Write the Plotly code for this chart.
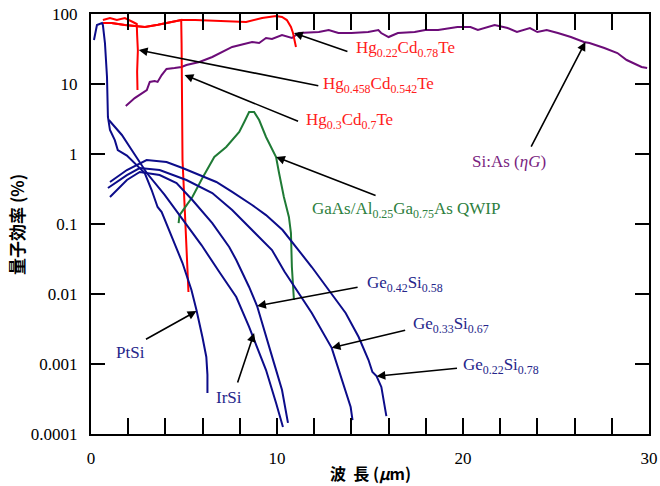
import plotly.graph_objects as go
import math

# ---------------- data ----------------
sias_x = [1.87,2.35,3.0,3.16,3.42,3.58,3.8,4.06,4.49,4.87,5.13,5.83,6.52,7.59,8.66,9.04,9.41,9.73,10.27,10.8,11.18,12.25,12.78,13.3,14.0,14.9,15.45,15.6,16.0,16.5,17.4,17.97,18.66,19.7,20.4,20.8,21.7,22.4,22.9,23.6,24.0,24.5,25.1,25.8,26.5,26.8,27.6,28.3,28.8,29.6,29.9]
sias_y = [4.85,6.3,8.2,10.7,11.0,10.7,13.4,16.4,16.9,17.5,18.7,20.6,24.3,33.8,39.8,38.5,45.4,44,50.1,45.4,53.5,55.3,59,53.5,53.5,55.3,59,53.5,46.9,53.5,55.3,59,59,65.2,65.2,59,69.6,63.1,55.3,63.1,55.3,59,53.5,46.9,39.8,38.5,32.7,27.7,22,17.5,16.9]

hg458_x = [0.64,1.02,1.39,1.82,2.25,2.46,2.48,2.52,2.48,2.5]
hg458_y = [82,87.7,82,87.7,76.9,72,50,30,15,8.2]

hg30_x = [0.64,1.1,1.82,2.35,2.9,3.6,4.49,4.85,4.87,4.9,4.92,4.97,5.03,5.13,5.24]
hg30_y = [74.4,74.4,69.6,67,65.2,70,79.4,82,38.5,1.58,0.82,0.425,0.175,0.031,0.0107]

hg22_x = [0.64,1.1,1.82,2.35,2.9,3.6,4.49,4.87,5.6,6.74,7.59,8.34,9.2,9.95,10.27,10.53,10.75,10.86,11.02]
hg22_y = [74.4,74.4,69.6,67,65.2,70,79.4,82,82,79.4,76.9,76.9,87.7,93.6,90.6,82,65.2,53.5,33.8]

ptsi_x = [0.16,0.32,0.59,0.64,0.75,0.86,0.91,1.02,1.28,1.44,1.93,2.46,2.89,3.26,3.58,3.8,4.12,4.49,4.92,5.4,5.67,5.99,6.2,6.26,6.26]
ptsi_y = [42.5,69.6,74.4,69.6,38.5,12.6,3.38,2.2,1.58,1.14,0.95,0.7,0.535,0.306,0.175,0.148,0.0906,0.0535,0.0277,0.0114,0.0059,0.00243,0.00126,0.0007,0.000386]

irsi_x = [0.96,1.66,2.19,3.0,3.96,5.03,5.94,6.9,7.81,8.5,9.41,9.95,10.32]
irsi_y = [3.06,1.87,1.14,0.535,0.26,0.107,0.05,0.0206,0.00906,0.00338,0.00082,0.000277,0.000126]

ge42_x = [1.02,1.93,2.62,3.69,4.6,5.45,6.52,7.43,7.81,8.5,8.93,9.3,9.84,10.27,10.59]
ge42_y = [0.243,0.425,0.553,0.5,0.385,0.22,0.103,0.047,0.0306,0.0126,0.00674,0.00306,0.00103,0.000425,0.000144]

ge33_x = [0.91,1.93,2.62,3.69,5.13,6.52,7.59,8.66,9.73,10.4,11.18,11.87,12.94,13.48,13.96,14.06]
ge33_y = [0.327,0.5,0.63,0.59,0.425,0.277,0.158,0.082,0.0425,0.021,0.0103,0.00535,0.0017,0.00059,0.000243,0.000158]

ge22_x = [1.02,1.93,2.99,4.06,4.92,5.83,6.74,7.59,8.66,9.41,10.3,11.87,12.78,13.69,14.39,14.92,15.13,15.35,15.61,15.83,15.88]
ge22_y = [0.398,0.59,0.82,0.769,0.63,0.5,0.398,0.287,0.187,0.134,0.082,0.0243,0.0114,0.00535,0.00243,0.00114,0.00077,0.00067,0.00047,0.0002,0.00018]

qwip_x = [4.71,4.76,5.03,5.45,5.99,6.63,7.27,7.97,8.24,8.5,8.77,9.04,9.41,9.95,10.11,10.37,10.64,10.75,10.8,10.91]
qwip_y = [0.103,0.134,0.169,0.243,0.454,0.906,1.26,2.06,2.87,3.98,3.98,3.06,1.75,0.906,0.535,0.243,0.126,0.0743,0.0243,0.0082]

x_tickvals = list(range(0, 31, 2))
x_ticktext = ["0","","","","","10","","","","","20","","","","","30"]
y_tickvals = [0.0001,0.001,0.01,0.1,1,10,100]
y_ticktext = ["0.0001","0.001","0.01","0.1","1","10","100"]

# label texts, arrow heads (data x, value) and text positions (data x, value)
labels = [
    ("Hg<sub>0.22</sub>Cd<sub>0.78</sub>Te", "#ff2020", (10.91, 53.6), (55, 19), (14.12, 31.6), "left"),
    ("Hg<sub>0.458</sub>Cd<sub>0.542</sub>Te", "#ff2020", (2.57, 30.6), (181, 36), (12.35, 9.68), "left"),
    ("Hg<sub>0.3</sub>Cd<sub>0.7</sub>Te", "#ff2020", (5.03, 13.5), (115, 47), (11.44, 2.96), "left"),
    ("Si:As (<i>ηG</i>)", "#7a1f7f", (26.58, 39.8), (-55, 106), (22.46, 0.77), "center"),
    ("GaAs/Al<sub>0.25</sub>Ga<sub>0.75</sub>As QWIP", "#2e8040", (9.95, 0.906), (101, 39), (11.76, 0.158), "left"),
    ("Ge<sub>0.42</sub>Si<sub>0.58</sub>", "#25258a", (8.93, 0.00674), (102, -19), (14.71, 0.0139), "left"),
    ("Ge<sub>0.33</sub>Si<sub>0.67</sub>", "#25258a", (12.94, 0.0017), (75, -18), (17.22, 0.0036), "left"),
    ("Ge<sub>0.22</sub>Si<sub>0.78</sub>", "#25258a", (15.35, 0.00067), (82, -8), (19.89, 0.000935), "left"),
    ("PtSi", "#25258a", (5.67, 0.0057), (-52, 29), (2.14, 0.00148), "center"),
    ("IrSi", "#25258a", (8.77, 0.00277), (-17, 51), (7.43, 0.000327), "center"),
]

# ---------------- figure ----------------
NAVY = "#0c0c8a"
RED = "#ff0000"
PURPLE = "#6c0c78"
GREEN = "#1f7a35"

fig = go.Figure()
series = [
    (sias_x, sias_y, PURPLE),
    (hg458_x, hg458_y, RED),
    (hg30_x, hg30_y, RED),
    (hg22_x, hg22_y, RED),
    (qwip_x, qwip_y, GREEN),
    (ptsi_x, ptsi_y, NAVY),
    (irsi_x, irsi_y, NAVY),
    (ge42_x, ge42_y, NAVY),
    (ge33_x, ge33_y, NAVY),
    (ge22_x, ge22_y, NAVY),
]
for xs, ys, c in series:
    fig.add_trace(go.Scatter(x=xs, y=ys, mode="lines",
                             line=dict(color=c, width=2), showlegend=False,
                             hoverinfo="skip"))

SERIF = "Liberation Serif, Times New Roman, serif"
annotations = []
for text, color, head, off, tpos, anchor in labels:
    annotations.append(dict(x=head[0], y=math.log10(head[1]), xref="x", yref="y",
                            text="", showarrow=True, ax=off[0], ay=off[1],
                            arrowhead=2, arrowsize=1.1, arrowwidth=1.6,
                            arrowcolor="black", standoff=0))
    annotations.append(dict(x=tpos[0], y=math.log10(tpos[1]), xref="x", yref="y",
                            text=text, showarrow=False, xanchor=anchor,
                            yanchor="middle",
                            font=dict(family=SERIF, size=17, color=color)))

CJK = "Noto Sans CJK JP"
annotations.append(dict(x=-0.1345, y=0.50, xref="paper", yref="paper",
                        text="量子効率 (%)", showarrow=False, textangle=-90,
                        xanchor="center", yanchor="middle",
                        font=dict(family=CJK, size=17, color="black", weight="bold")))
annotations.append(dict(x=0.50, y=-0.093, xref="paper", yref="paper",
                        text="波  長 (<i>μ</i>m)", showarrow=False,
                        xanchor="center", yanchor="middle",
                        font=dict(family=CJK, size=16, color="black", weight="bold")))

fig.update_layout(
    width=660, height=486,
    margin=dict(l=91, r=11, t=14, b=52, autoexpand=False),
    paper_bgcolor="white", plot_bgcolor="white",
    annotations=annotations,
    font=dict(family=SERIF, size=17, color="black"),
)
fig.update_xaxes(range=[0, 30], tickvals=x_tickvals, ticktext=x_ticktext,
                 ticks="inside", ticklen=16, tickwidth=2, tickcolor="black",
                 showline=True, linewidth=2, linecolor="black", mirror="allticks",
                 showgrid=False, zeroline=False, ticklabelstandoff=8,
                 ticklabeloverflow="allow",
                 automargin=False, tickfont=dict(family=SERIF, size=17))
fig.update_yaxes(type="log", range=[-4, 2], tickvals=y_tickvals, ticktext=y_ticktext,
                 ticks="inside", ticklen=14, tickwidth=2, tickcolor="black",
                 showline=True, linewidth=2, linecolor="black", mirror="allticks",
                 showgrid=False, zeroline=False, ticklabelstandoff=8,
                 ticklabeloverflow="allow",
                 automargin=False, tickfont=dict(family=SERIF, size=17))

# remove the browser's default 8px body margin so the figure sits at the page origin
fig.write_html("out.html", config={"displayModeBar": False},
               post_script="document.body.style.margin='0';document.body.style.overflow='hidden';")
